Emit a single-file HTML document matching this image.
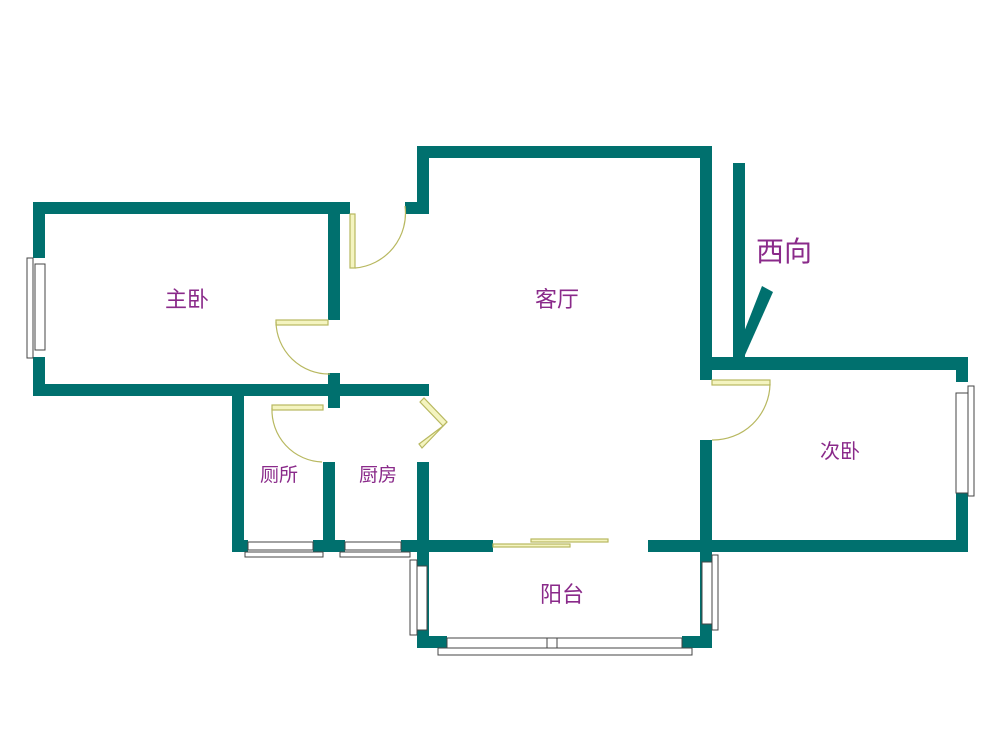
<!DOCTYPE html>
<html><head><meta charset="utf-8"><style>
html,body{margin:0;padding:0;background:#fff;}
svg{display:block}
text{font-family:"Liberation Sans","Noto Sans CJK SC",sans-serif;fill:#8a2a8a;}
</style></head><body>
<svg width="1000" height="752" viewBox="0 0 1000 752" xmlns="http://www.w3.org/2000/svg">
<g fill="#00706e">
<rect x="33" y="202" width="317" height="12"/>
<rect x="33" y="202" width="12" height="56"/>
<rect x="33" y="357" width="12" height="39"/>
<rect x="33" y="384" width="396" height="12"/>
<rect x="328" y="202" width="12" height="118"/>
<rect x="328" y="373" width="12" height="35"/>
<rect x="405" y="202" width="24" height="12"/>
<rect x="417" y="146" width="12" height="68"/>
<rect x="417" y="146" width="295" height="12"/>
<rect x="700" y="146" width="12" height="234"/>
<rect x="700" y="440" width="12" height="208"/>
<rect x="700" y="357" width="268" height="13"/>
<rect x="956" y="357" width="12" height="25"/>
<rect x="956" y="493" width="12" height="59"/>
<rect x="700" y="540" width="268" height="12"/>
<rect x="232" y="396" width="12" height="156"/>
<rect x="323" y="462" width="12" height="90"/>
<rect x="417" y="462" width="12" height="186"/>
<rect x="232" y="540" width="16" height="12"/>
<rect x="313" y="540" width="32" height="12"/>
<rect x="401" y="540" width="92" height="12"/>
<rect x="648" y="540" width="64" height="12"/>
<rect x="417" y="636" width="30" height="12"/>
<rect x="682" y="636" width="30" height="12"/>
<rect x="733" y="163" width="12" height="195"/>
<polygon points="733,360 762,286 773,292 745,355"/>
</g>
<g fill="#fff" stroke="#444" stroke-width="1">
<rect x="27" y="258" width="6" height="100"/>
<rect x="35" y="264" width="10" height="86"/>
<rect x="968" y="386" width="6" height="110"/>
<rect x="956" y="393" width="12" height="100"/>
<rect x="248" y="542" width="65" height="8"/>
<rect x="245" y="552" width="78" height="5"/>
<rect x="345" y="542" width="56" height="8"/>
<rect x="340" y="552" width="70" height="5"/>
<rect x="410" y="560" width="7" height="75"/>
<rect x="417" y="566" width="10" height="64"/>
<rect x="712" y="555" width="6" height="75"/>
<rect x="702" y="562" width="10" height="62"/>
<rect x="447" y="638" width="235" height="10"/>
<rect x="438" y="648" width="254" height="7"/>
<rect x="547" y="638" width="10" height="10"/>
</g>
<g fill="none" stroke="#b8b860" stroke-width="1.2">
<rect x="350" y="214" width="5" height="54" fill="#f4f4c0"/>
<path d="M355,268 A55,55 0 0 0 405,206"/>
<rect x="276" y="320" width="52" height="5" fill="#f4f4c0"/>
<path d="M276,322 A53,53 0 0 0 330,374"/>
<rect x="272" y="405" width="51" height="5" fill="#f4f4c0"/>
<path d="M272,408 A52,52 0 0 0 322,462"/>
<polygon points="420,402 424,398 447,422 443,426" fill="#f4f4c0"/>
<polygon points="443,426 447,422 422,448 419,444" fill="#f4f4c0"/>
<rect x="712" y="380" width="58" height="5" fill="#f4f4c0"/>
<path d="M770,384 A57,57 0 0 1 712,440"/>
<rect x="493" y="544" width="77" height="3" fill="#f4f4c0"/>
<rect x="531" y="539" width="77" height="3" fill="#f4f4c0"/>
</g>
<text x="187" y="307" font-size="22" text-anchor="middle">主卧</text>
<text x="557" y="307" font-size="22" text-anchor="middle">客厅</text>
<text x="840" y="458" font-size="20" text-anchor="middle">次卧</text>
<text x="279" y="481" font-size="19" text-anchor="middle">厕所</text>
<text x="378" y="481" font-size="19" text-anchor="middle">厨房</text>
<text x="562" y="602" font-size="22" text-anchor="middle">阳台</text>
<text x="784" y="261" font-size="28" text-anchor="middle">西向</text>
</svg>
</body></html>
